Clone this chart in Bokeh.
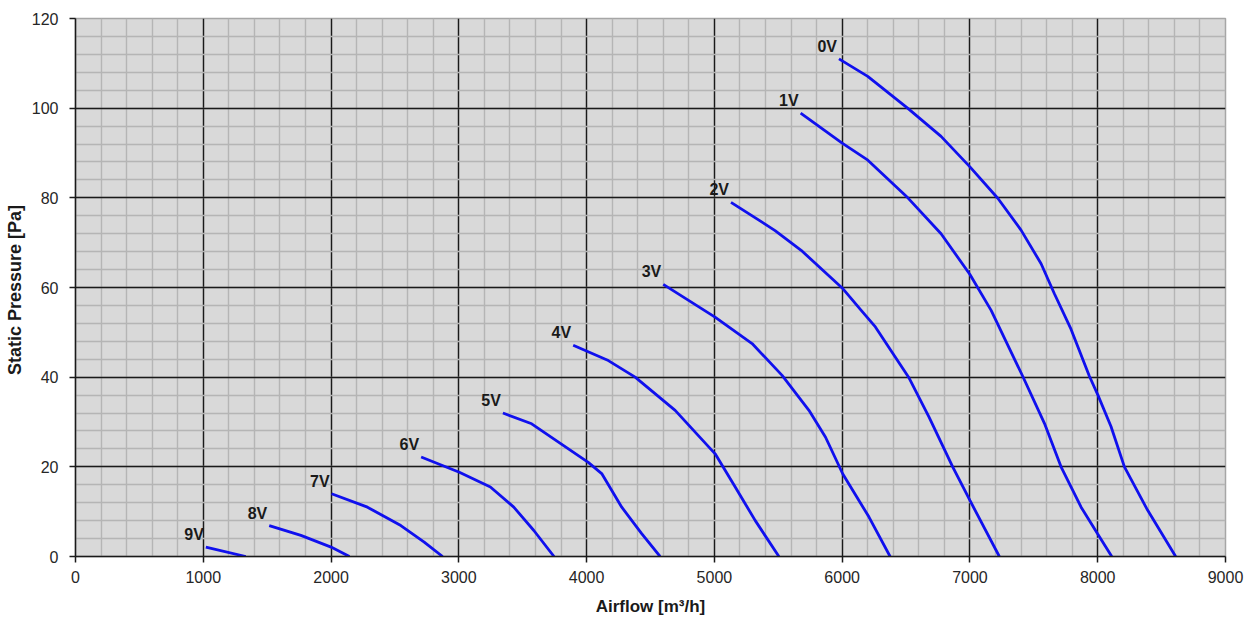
from bokeh.plotting import figure
from bokeh.models import Range1d, SingleIntervalTicker, ColumnDataSource
from bokeh.embed import file_html
from bokeh.resources import INLINE
from bokeh.core.properties import value

# ---- data ----
labels = ["0V", "1V", "2V", "3V", "4V", "5V", "6V", "7V", "8V", "9V"]

v0_x = [5975, 6200, 6512, 6774, 7000, 7218, 7400, 7557, 7661, 7791, 7935, 8000, 8104, 8209, 8391, 8610]
v0_y = [111, 107.1, 100, 93.7, 86.9, 79.9, 72.8, 65.3, 58.6, 50.7, 40.2, 36.1, 29, 20, 10.3, 0]
v1_x = [5675, 6000, 6201, 6514, 6774, 7000, 7166, 7413, 7583, 7713, 7870, 8000, 8110]
v1_y = [98.9, 92.2, 88.4, 80, 72, 62.9, 54.9, 40.2, 29.7, 20, 11, 5, 0]
v2_x = [5130, 5475, 5679, 6000, 6149, 6260, 6520, 6680, 6865, 7000, 7230]
v2_y = [79, 72.7, 68.3, 59.9, 54.9, 51.2, 40, 31.1, 20, 12.5, 0]
v3_x = [4600, 5005, 5295, 5530, 5740, 5870, 6005, 6210, 6375]
v3_y = [60.7, 53.4, 47.5, 40.4, 32.6, 26.6, 18.4, 8.8, 0]
v4_x = [3895, 4170, 4380, 4693, 5006, 5163, 5320, 5505]
v4_y = [47.1, 43.7, 40, 32.6, 22.9, 15.5, 8, 0]
v5_x = [3345, 3570, 4013, 4118, 4275, 4431, 4575]
v5_y = [32, 29.6, 21, 18.5, 11, 5.1, 0]
v6_x = [2705, 3004, 3247, 3430, 3587, 3745]
v6_y = [22.2, 18.8, 15.5, 11, 5.8, 0]
v7_x = [2004, 2285, 2546, 2729, 2873]
v7_y = [14, 11, 6.9, 3.2, 0]
v8_x = [1516, 1764, 2000, 2144]
v8_y = [6.9, 4.7, 2.1, 0]
v9_x = [1020, 1333]
v9_y = [2.1, 0]

series_x = [v0_x, v1_x, v2_x, v3_x, v4_x, v5_x, v6_x, v7_x, v8_x, v9_x]
series_y = [v0_y, v1_y, v2_y, v3_y, v4_y, v5_y, v6_y, v7_y, v8_y, v9_y]

x_title = "Airflow [m³/h]"
y_title = "Static Pressure  [Pa]"

FONT = "Liberation Sans"

p = figure(width=1250, height=620, output_backend="svg", toolbar_location=None,
           x_range=Range1d(0, 9000), y_range=Range1d(0, 120),
           min_border_left=75, min_border_right=25, min_border_top=18, min_border_bottom=64)

p.background_fill_color = "#d9d9d9"
p.border_fill_color = "white"
p.outline_line_color = "#a6a6a6"
p.outline_line_width = 1.5

p.xaxis.ticker = SingleIntervalTicker(interval=1000, num_minor_ticks=5)
p.yaxis.ticker = SingleIntervalTicker(interval=20, num_minor_ticks=5)

for g in (p.xgrid, p.ygrid):
    g.grid_line_color = "#1a1a1a"
    g.grid_line_width = 1.4
    g.minor_grid_line_color = "#b5b5b5"
    g.minor_grid_line_width = 1.4

for ax in (p.xaxis, p.yaxis):
    ax.axis_line_color = "#1a1a1a"
    ax.axis_line_width = 1.5
    ax.major_tick_line_color = "#1a1a1a"
    ax.major_tick_line_width = 1.5
    ax.major_tick_in = 0
    ax.major_tick_out = 6
    ax.minor_tick_line_color = None
    ax.major_label_text_font = FONT
    ax.major_label_text_font_size = "16px"
    ax.major_label_text_color = "#262626"
    ax.axis_label_text_font = FONT
    ax.axis_label_text_font_style = "bold"
    ax.axis_label_text_color = "#1a1a1a"

p.xaxis.axis_label = x_title
p.yaxis.axis_label = y_title
p.xaxis.axis_label_text_font_size = "17px"
p.yaxis.axis_label_text_font_size = "18px"
p.xaxis.major_label_standoff = 8
p.xaxis.axis_label_standoff = 11
p.yaxis.major_label_standoff = 11
p.yaxis.axis_label_standoff = 4

for xs, ys in zip(series_x, series_y):
    p.line(xs, ys, line_color="#1010ee", line_width=2.8)

lab_src = ColumnDataSource(dict(x=[s[0] for s in series_x],
                                y=[s[0] for s in series_y],
                                t=labels))
p.text(x="x", y="y", text="t", source=lab_src, text_align="right", text_baseline="bottom",
       x_offset=-2, y_offset=-4, text_font=value(FONT), text_font_size="16px",
       text_font_style="bold", text_color="#1a1a1a")

open("out.html", "w").write(file_html(p, INLINE))
